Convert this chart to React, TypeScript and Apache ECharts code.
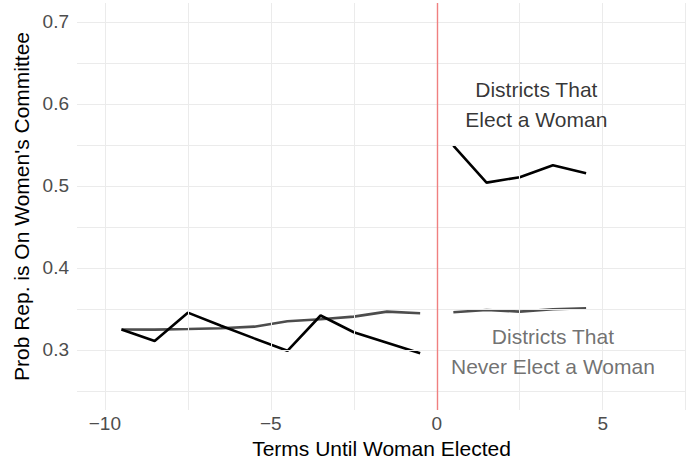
import React, { useEffect, useRef } from "react";
import * as echarts from "echarts";

const termsBefore = [-9.5, -8.5, -7.5, -6.5, -5.5, -4.5, -3.5, -2.5, -1.5, -0.5];
const termsAfter = [0.5, 1.5, 2.5, 3.5, 4.5];
const electBefore = [0.325, 0.311, 0.3455, 0.3296, 0.3141, 0.299, 0.342, 0.3216, 0.3088, 0.296];
const electAfter = [0.549, 0.504, 0.5106, 0.5252, 0.5155];
const neverBefore = [0.325, 0.3248, 0.3256, 0.3265, 0.3284, 0.335, 0.3374, 0.3406, 0.3467, 0.3448];
const neverAfter = [0.346, 0.3488, 0.3467, 0.3496, 0.3509];

const xTicks = [-10, -5, 0, 5];
const yTicks = [0.3, 0.4, 0.5, 0.6, 0.7];
const xGridLines = [-10, -7.5, -5, -2.5, 0, 2.5, 5, 7.5];
const yGridLines = [0.25, 0.3, 0.35, 0.4, 0.45, 0.5, 0.55, 0.6, 0.65, 0.7];
const electionTerm = 0;

const electLabel = { x: 3.0, y: 0.599, text: "Districts That\nElect a Woman" };
const neverLabel = { x: 3.5, y: 0.2985, text: "Districts That\nNever Elect a Woman" };

const FONT = "'Liberation Sans', Arial, Helvetica, sans-serif";

const zip = (xs: number[], ys: number[]) => xs.map((x, i) => [x, ys[i]]);

export default function App() {
  const ref = useRef<HTMLDivElement>(null);
  useEffect(() => {
    document.body.style.margin = "0";
    if (!ref.current) return;
    const chart = echarts.init(ref.current, undefined, { renderer: "svg" });
    const lineBase = {
      type: "line" as const,
      symbol: "none",
      silent: true,
      z: 3,
    };
    chart.setOption({
      animation: false,
      backgroundColor: "#ffffff",
      textStyle: { fontFamily: FONT },
      grid: { left: 77, right: 0, top: 3, bottom: 54, containLabel: false },
      xAxis: {
        type: "value",
        min: -10.84,
        max: 7.51,
        name: "Terms Until Woman Elected",
        nameLocation: "middle",
        nameGap: 28,
        nameTextStyle: { color: "#000", fontSize: 21, fontFamily: FONT },
        axisLine: { show: false },
        axisTick: { show: false },
        splitLine: { show: false },
        axisLabel: {
          customValues: xTicks,
          color: "#4d4d4d",
          fontSize: 19,
          margin: 4,
          fontFamily: FONT,
          formatter: (v: number) => (v < 0 ? "\u2212" + Math.abs(v) : String(v)),
        },
      },
      yAxis: {
        type: "value",
        min: 0.2268,
        max: 0.723,
        name: "Prob Rep. is On Women's Committee",
        nameLocation: "middle",
        nameGap: 44,
        nameTextStyle: { color: "#000", fontSize: 21, fontFamily: FONT },
        axisLine: { show: false },
        axisTick: { show: false },
        splitLine: { show: false },
        axisLabel: {
          customValues: yTicks,
          color: "#4d4d4d",
          fontSize: 19,
          margin: 8,
          fontFamily: FONT,
          formatter: (v: number) => v.toFixed(1),
        },
      },
      series: [
        {
          type: "line",
          data: [],
          silent: true,
          z: 1,
          markLine: {
            silent: true,
            symbol: "none",
            label: { show: false },
            lineStyle: { color: "#ebebeb", width: 1, type: "solid" },
            data: [
              ...xGridLines.map((v) => ({ xAxis: v })),
              ...yGridLines.map((v) => ({ yAxis: v })),
            ],
          },
        },
        {
          type: "line",
          data: [],
          silent: true,
          z: 2,
          color: "#f08080",
          markLine: {
            silent: true,
            symbol: "none",
            label: { show: false },
            lineStyle: { color: "#f08080", width: 1.4, type: "solid", opacity: 1 },
            emphasis: { disabled: true },
            data: [{ xAxis: electionTerm, lineStyle: { color: "#f08080", width: 1.4, type: "solid" } }],
          },
        },
        { ...lineBase, data: zip(termsBefore, neverBefore), lineStyle: { color: "#4d4d4d", width: 2.6 } },
        { ...lineBase, data: zip(termsAfter, neverAfter), lineStyle: { color: "#4d4d4d", width: 2.6 } },
        { ...lineBase, data: zip(termsBefore, electBefore), lineStyle: { color: "#000000", width: 2.6 }, z: 4 },
        { ...lineBase, data: zip(termsAfter, electAfter), lineStyle: { color: "#000000", width: 2.6 }, z: 4 },
        {
          type: "scatter",
          symbolSize: 0,
          silent: true,
          z: 5,
          data: [
            { value: [electLabel.x, electLabel.y], label: { color: "#000000" }, name: electLabel.text },
            { value: [neverLabel.x, neverLabel.y], label: { color: "#4d4d4d" }, name: neverLabel.text },
          ],
          label: {
            show: true,
            position: "inside",
            align: "center",
            verticalAlign: "middle",
            fontSize: 21,
            lineHeight: 30,
            fontFamily: FONT,
            formatter: (p: any) => p.name,
          },
        },
      ],
    });
    return () => chart.dispose();
  }, []);
  return <div ref={ref} style={{ width: 686, height: 464 }} />;
}
